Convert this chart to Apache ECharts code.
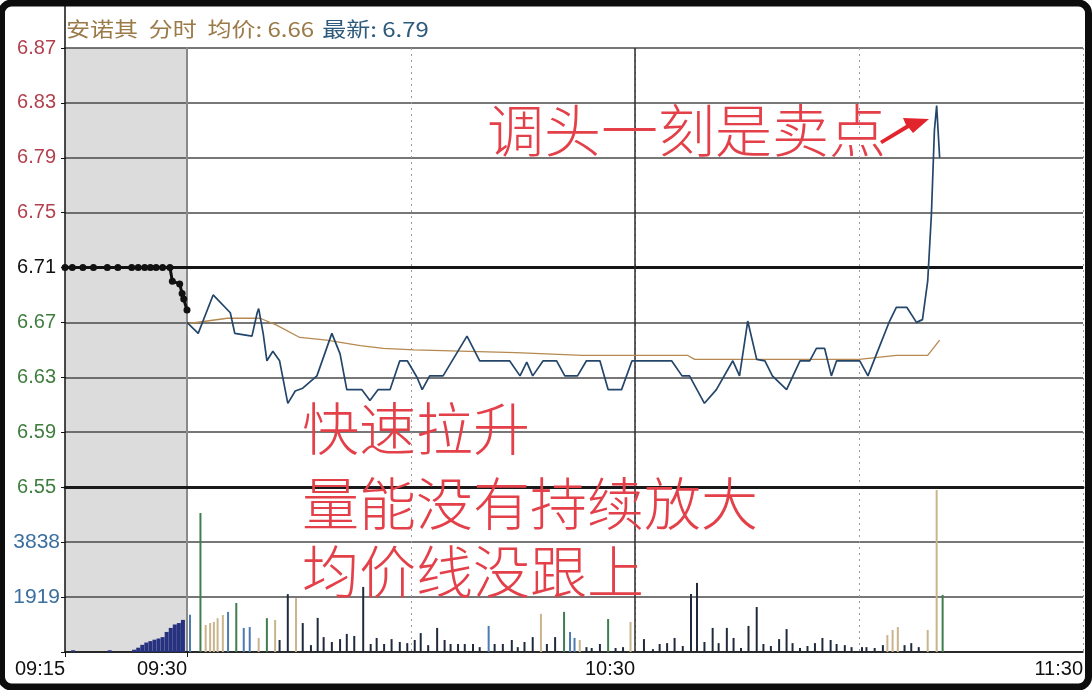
<!DOCTYPE html>
<html>
<head>
<meta charset="utf-8">
<script src="https://cdn.jsdelivr.net/npm/echarts@6/dist/echarts.min.js"></script>
<style>html,body{margin:0;padding:0;background:#fff}#c{width:1092px;height:690px}</style>
</head>
<body>
<div id="c"></div>
<script>
// ---------- data ----------
const stockName = '安诺其';
const chartMode = '分时';
const prevClose = 6.71;
const preSessionLabels = ['09:15', '09:30'];
const mainTickLabels = ['', '', '10:30', '', '11:30'];
const volumeTickLabels = ['', '1919', '3838', ''];

// call-auction minutes after 09:15
const preTimes  = [0, 0.9, 2.2, 3.5, 5.2, 6.5, 8.2, 9.0, 9.8, 10.5, 11.2, 12.0, 12.9, 13.2, 14.1, 14.4, 14.6, 15.0];
const prePrices = [6.71, 6.71, 6.71, 6.71, 6.71, 6.71, 6.71, 6.71, 6.71, 6.71, 6.71, 6.71, 6.71, 6.700, 6.698, 6.691, 6.687, 6.679];
const preVolTimes = [1, 5.5, 8.5, 9, 9.5, 10, 10.5, 11, 11.5, 12, 12.5, 13, 13.5, 14, 14.5];
const preVolumes  = [60, 60, 80, 150, 250, 330, 380, 430, 470, 520, 700, 840, 960, 1010, 1120];

// continuous session, minutes after 09:30
const priceTimes = [0, 1.5, 3.5, 5.8, 6.4, 8.7, 9.4, 9.6, 10.2, 10.7,
  11.5, 12.4, 13.5, 14.5, 15.5, 17.4, 19.4, 20.5, 21.4, 23.4,
  24.5, 25.6, 27.2, 28.5, 29.5, 30.8, 31.5, 32.5, 34.3, 37.5,
  39.2, 43.2, 44.6, 45.5, 46.3, 47.7, 49.5, 50.6, 52.3, 53.5,
  55.3, 56.4, 58.2, 59.6, 64.9, 66.3, 67.3, 69.3, 70.9, 73.1,
  74.0, 75.1, 76.3, 77.4, 78.4, 80.3, 82.1, 83.4, 84.3, 85.4,
  86.3, 87.0, 90.1, 91.2, 92.5, 94.1, 95.0, 96.4, 97.7, 98.5,
  99.2, 99.7, 100.1, 100.4, 100.8];
const prices = [6.670, 6.662, 6.690, 6.677, 6.662, 6.660, 6.677, 6.680, 6.662, 6.642,
  6.649, 6.642, 6.611, 6.620, 6.622, 6.631, 6.662, 6.647, 6.621, 6.621,
  6.613, 6.621, 6.621, 6.642, 6.642, 6.630, 6.621, 6.631, 6.631, 6.660,
  6.642, 6.642, 6.631, 6.641, 6.631, 6.642, 6.642, 6.631, 6.631, 6.642,
  6.642, 6.621, 6.621, 6.642, 6.642, 6.631, 6.631, 6.611, 6.621, 6.642,
  6.631, 6.671, 6.643, 6.642, 6.631, 6.621, 6.642, 6.642, 6.651, 6.651,
  6.631, 6.642, 6.642, 6.631, 6.649, 6.671, 6.681, 6.681, 6.670, 6.672,
  6.700, 6.749, 6.810, 6.828, 6.790];

const avgTimes  = [0, 5.4, 9.8, 12, 15.1, 18.7, 23.2, 26.3, 30.4, 30.5, 44, 53, 67, 68, 90, 95, 99.2, 100.8];
const avgPrices = [6.669, 6.673, 6.673, 6.668, 6.659, 6.657, 6.653, 6.651, 6.650, 6.649, 6.648, 6.646, 6.646, 6.643, 6.643, 6.646, 6.646, 6.657];

const volTimes = [0.4, 1.8, 2.5, 3.1, 3.6, 4.1, 4.8, 5.5, 6.6, 7.6,
  8.4, 9.6, 10.7, 11.8, 12.4, 13.5, 14.6, 15.5, 16.6, 17.5,
  18.3, 19.4, 20.5, 21.4, 22.4, 23.6, 24.6, 25.4, 26.4, 27.4,
  28.5, 29.5, 30.5, 31.3, 32.3, 33.5, 34.5, 35.3, 36.3, 37.2,
  38.3, 39.2, 40.4, 41.2, 42.3, 43.5, 44.3, 45.2, 46.3, 47.4,
  48.2, 49.3, 50.5, 51.3, 51.9, 52.6, 53.5, 54.2, 55.3, 56.4,
  57.4, 58.4, 59.4, 61.2, 62.4, 63.3, 64.3, 65.3, 66.4, 67.5,
  68.3, 69.3, 70.4, 71.2, 72.3, 73.2, 74.2, 75.2, 76.3, 77.2,
  78.2, 79.3, 80.3, 81.1, 82.1, 83.1, 84.1, 85.1, 86.2, 87.0,
  88.1, 89.0, 90.4, 91.0, 92.1, 93.2, 93.8, 94.5, 95.2, 96.1,
  97.0, 98.0, 99.2, 100.4, 101.2];
const volumes = [1300, 4850, 940, 1010, 1050, 1180, 1290, 1400, 1710, 840,
  870, 490, 1180, 1120, 420, 2020, 1880, 1010, 240, 1190,
  520, 350, 450, 630, 560, 2270, 280, 490, 280, 450,
  350, 310, 420, 660, 240, 840, 420, 280, 280, 280,
  280, 170, 910, 280, 280, 420, 170, 350, 520, 1330,
  280, 520, 1400, 700, 490, 420, 170, 140, 280, 1150,
  140, 170, 1050, 450, 100, 280, 310, 490, 210, 2020,
  2410, 350, 840, 310, 840, 490, 140, 910, 1570, 280,
  210, 450, 800, 310, 140, 210, 310, 490, 420, 280,
  240, 170, 170, 170, 140, 240, 590, 770, 870, 240,
  310, 170, 770, 5650, 1990];
// trade side per bar: T = active buy, G = active sell, B = mixed, N = neutral
const volumeSide = ('BGTTTTTBGB' + 'BTGTNNTNNN' + 'NNNNNNNNNN' + 'NNNNNNNNNN' + 'NNBNNNNNNT' +
  'NNGBBTNNNG' + 'NNTNNNNNNN' + 'NNNNNNNNNN' + 'NNNNNNNNNN' + 'NNNNNNTTTN' + 'NNTTG').split('');

const annotationTop = '调头一刻是卖点';
const annotationLines = ['快速拉升', '量能没有持续放大', '均价线没跟上'];

// ---------- chart ----------
const toneColor = { N: '#1f2b3d', T: '#c9b48c', G: '#3f7d4c', B: '#4c7bb0' };
const axisFont = 'Liberation Sans';
const gridLine = { color: '#4a4a4a', width: 1.6 };
const dotted = { color: '#9a9a9a', width: 1, type: [2, 4] };
const noteStyle = { fill: '#e3404a', fontSize: 57, fontWeight: 300, fontFamily: 'Noto Sans CJK SC', verticalAlign: 'middle' };

function priceLabelColor(v) {
  const n = parseFloat(v);
  if (Math.abs(n - prevClose) < 0.005) return '#111111';
  return n > prevClose ? '#b2404e' : '#3f7d3f';
}

const lastPrice = prices[prices.length - 1].toFixed(2);
const lastAvg = avgPrices[avgPrices.length - 1].toFixed(2);

const chart = echarts.init(document.getElementById('c'), null, { renderer: 'canvas' });
const option = {
  animation: false,
  backgroundColor: '#ffffff',
  grid: [
    { left: 65, top: 48, width: 122, height: 439, show: true, backgroundColor: '#dcdcdc', borderWidth: 0, containLabel: false, outerBoundsMode: 'none' },
    { left: 187, top: 48, width: 896, height: 439, containLabel: false, outerBoundsMode: 'none' },
    { left: 65, top: 487, width: 122, height: 165, show: true, backgroundColor: '#dcdcdc', borderWidth: 0, containLabel: false, outerBoundsMode: 'none' },
    { left: 187, top: 487, width: 896, height: 165, containLabel: false, outerBoundsMode: 'none' }
  ],
  xAxis: [
    { gridIndex: 0, type: 'value', min: 0, max: 15, interval: 15,
      axisLine: { show: true, onZero: false, lineStyle: { color: '#1a1a1a', width: 3 } },
      axisTick: { show: false }, axisLabel: { show: false }, splitLine: { show: false } },
    { gridIndex: 1, type: 'value', min: 0, max: 120, interval: 30,
      axisLine: { show: true, onZero: false, lineStyle: { color: '#1a1a1a', width: 3 } },
      axisTick: { show: false }, axisLabel: { show: false },
      splitLine: { show: true, lineStyle: dotted } },
    { gridIndex: 2, type: 'value', min: 0, max: 15, interval: 15,
      axisLine: { show: true, onZero: false, lineStyle: { color: '#111', width: 1.5 } },
      axisTick: { show: true, length: 5, lineStyle: { color: '#111' } },
      axisLabel: { formatter: (v) => preSessionLabels[Math.round(v / 15)] || '', align: 'right', margin: 7,
        color: '#111', fontSize: 20, fontFamily: axisFont },
      splitLine: { show: false } },
    { gridIndex: 3, type: 'value', min: 0, max: 120, interval: 30,
      axisLine: { show: true, onZero: false, lineStyle: { color: '#111', width: 1.5 } },
      axisTick: { show: false },
      axisLabel: { formatter: (v) => mainTickLabels[Math.round(v / 30)] || '', align: 'right', margin: 7,
        color: '#111', fontSize: 20, fontFamily: axisFont },
      splitLine: { show: true, lineStyle: dotted } }
  ],
  yAxis: [
    { gridIndex: 0, type: 'value', min: 6.55, max: 6.87, interval: 0.04,
      axisLine: { show: true, onZero: false, lineStyle: { color: '#111', width: 1.5 } },
      axisTick: { show: true, length: 4, lineStyle: { color: '#111' } },
      axisLabel: { formatter: (v) => Number(v).toFixed(2), color: priceLabelColor, fontSize: 20, fontFamily: axisFont, margin: 9 },
      splitLine: { show: true, lineStyle: gridLine } },
    { gridIndex: 1, type: 'value', min: 6.55, max: 6.87, interval: 0.04,
      axisLine: { show: true, onZero: false, lineStyle: { color: '#8a8a8a', width: 2 } },
      axisTick: { show: false }, axisLabel: { show: false },
      splitLine: { show: true, lineStyle: gridLine } },
    { gridIndex: 2, type: 'value', min: 0, max: 5757, interval: 1919,
      axisLine: { show: true, onZero: false, lineStyle: { color: '#111', width: 1.5 } },
      axisTick: { show: true, length: 4, lineStyle: { color: '#111' } },
      axisLabel: { formatter: (v) => volumeTickLabels[Math.round(v / 1919)] || '', color: '#3a6f9f', fontSize: 21, fontFamily: axisFont, margin: 5 },
      splitLine: { show: true, lineStyle: gridLine } },
    { gridIndex: 3, type: 'value', min: 0, max: 5757, interval: 1919,
      axisLine: { show: true, onZero: false, lineStyle: { color: '#8a8a8a', width: 2 } },
      axisTick: { show: false }, axisLabel: { show: false },
      splitLine: { show: true, lineStyle: gridLine } }
  ],
  series: [
    { name: 'pre', type: 'line', xAxisIndex: 0, yAxisIndex: 0, z: 5,
      data: preTimes.map((t, i) => [t, prePrices[i]]),
      symbol: 'circle', symbolSize: 7, itemStyle: { color: '#111' },
      lineStyle: { color: '#111', width: 3 },
      markLine: { silent: true, symbol: 'none', label: { show: false },
        lineStyle: { color: '#151515', width: 3, type: 'solid' }, data: [{ yAxis: prevClose }] } },
    { name: 'avg', type: 'line', xAxisIndex: 1, yAxisIndex: 1, z: 4,
      data: avgTimes.map((t, i) => [t, avgPrices[i]]),
      showSymbol: false, lineStyle: { color: '#b5894f', width: 1.3 } },
    { name: 'price', type: 'line', xAxisIndex: 1, yAxisIndex: 1, z: 5,
      data: priceTimes.map((t, i) => [t, prices[i]]),
      showSymbol: false, lineStyle: { color: '#24466a', width: 1.7 },
      markLine: { silent: true, symbol: 'none', label: { show: false }, z: 2,
        data: [
          { yAxis: prevClose, lineStyle: { color: '#151515', width: 3, type: 'solid' } },
          { xAxis: 60, lineStyle: { color: '#2a2a2a', width: 1.5, type: 'solid' } }
        ] } },
    { name: 'preVol', type: 'bar', xAxisIndex: 2, yAxisIndex: 2, barWidth: 4,
      data: preVolTimes.map((t, i) => [t, preVolumes[i]]),
      itemStyle: { color: '#26327f' } },
    { name: 'vol', type: 'bar', xAxisIndex: 3, yAxisIndex: 3, barWidth: 2,
      data: volTimes.map((t, i) => ({ value: [t, volumes[i]], itemStyle: { color: toneColor[volumeSide[i]] } })),
      markLine: { silent: true, symbol: 'none', label: { show: false },
        data: [{ xAxis: 60, lineStyle: { color: '#2a2a2a', width: 1.5, type: 'solid' } }] } }
  ],
  graphic: [
    { type: 'line', shape: { x1: 65, y1: 6, x2: 65, y2: 48 }, style: { stroke: '#111', lineWidth: 1.5 } },
    { type: 'text', x: 66, y: 29, scaleX: 1.2, originX: 0, originY: 0,
      style: {
        text: '{a|' + stockName + '  ' + chartMode + '  均价: ' + lastAvg + '}  {b|最新: ' + lastPrice + '}',
        verticalAlign: 'middle',
        rich: {
          a: { fill: '#9a7a48', fontSize: 20, fontFamily: 'Noto Sans CJK SC' },
          b: { fill: '#2e5a7c', fontSize: 20, fontFamily: 'Noto Sans CJK SC' }
        }
      } },
    { type: 'text', x: 487, y: 130, z: 50, style: Object.assign({ text: annotationTop }, noteStyle) },
    { type: 'text', x: 302, y: 428, z: 50, style: Object.assign({ text: annotationLines[0] }, noteStyle) },
    { type: 'text', x: 302, y: 503, z: 50, style: Object.assign({ text: annotationLines[1] }, noteStyle) },
    { type: 'text', x: 302, y: 571, z: 50, style: Object.assign({ text: annotationLines[2] }, noteStyle) },
    { type: 'polygon', z: 50,
      shape: { points: [[880, 141], [906, 125], [903, 118], [929, 119], [913, 133], [909, 128], [882, 144]] },
      style: { fill: '#e2252c' } },
    { type: 'rect', z: 100, shape: { x: 1.5, y: 3, width: 1087, height: 684, r: 10 },
      style: { fill: 'none', stroke: '#0d0d0d', lineWidth: 7 } }
  ]
};
chart.setOption(option);
</script>
</body>
</html>
